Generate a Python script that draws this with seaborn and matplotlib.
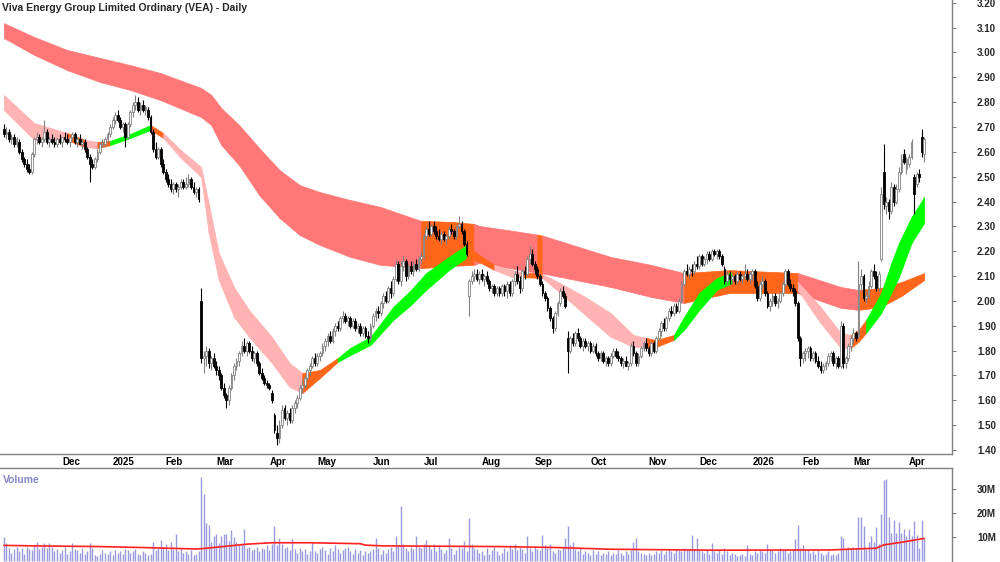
import numpy as np
import pandas as pd
import matplotlib
matplotlib.use("Agg")
import matplotlib.pyplot as plt
import matplotlib.transforms as mtransforms
import seaborn as sns

sns.set_theme(style="white")
plt.rcParams["font.family"] = ["Liberation Sans", "DejaVu Sans"]

# ──────────────────────────────────────────
# DATA
# ──────────────────────────────────────────
title = "Viva Energy Group Limited Ordinary (VEA) - Daily"

# ASX trading calendar
asx_holidays = ["2024-12-25", "2024-12-26", "2025-01-01", "2025-01-27",
                "2025-04-18", "2025-04-21", "2025-04-25", "2025-06-09",
                "2025-12-25", "2025-12-26", "2026-01-01", "2026-01-26",
                "2026-04-03", "2026-04-06"]
dates = pd.bdate_range("2024-11-01", "2026-04-15", freq="C", holidays=asx_holidays)

opens = [
    # Nov 2024
    2.69, 2.67, 2.68, 2.65, 2.66, 2.63, 2.64, 2.60, 2.57, 2.55, 2.53, 2.52, 2.59, 2.65, 2.66, 2.64, 2.65, 2.68, 2.64, 2.65, 2.64,
    # Dec
    2.63, 2.65, 2.64, 2.66, 2.65, 2.64, 2.66, 2.67, 2.64, 2.65, 2.63, 2.64, 2.61, 2.58, 2.55, 2.54, 2.57, 2.60, 2.63, 2.63,
    # Jan 2025
    2.65, 2.67, 2.70, 2.73, 2.75, 2.73, 2.70, 2.71, 2.66, 2.71, 2.76, 2.79, 2.80, 2.77, 2.79, 2.77, 2.77, 2.74, 2.68, 2.61, 2.58,
    # Feb
    2.61, 2.55, 2.52, 2.49, 2.47, 2.45, 2.47, 2.45, 2.46, 2.48, 2.46, 2.47, 2.49, 2.46, 2.44, 2.45, 2.00, 1.77, 1.78, 1.80,
    # Mar
    1.75, 1.77, 1.74, 1.72, 1.70, 1.65, 1.62, 1.60, 1.65, 1.70, 1.74, 1.76, 1.79, 1.82, 1.80, 1.83, 1.80, 1.77, 1.79, 1.75, 1.71,
    # Apr
    1.69, 1.67, 1.66, 1.63, 1.54, 1.47, 1.45, 1.50, 1.57, 1.53, 1.55, 1.52, 1.57, 1.59, 1.61, 1.65, 1.66, 1.69, 1.72,
    # May
    1.74, 1.77, 1.75, 1.78, 1.79, 1.82, 1.84, 1.86, 1.84, 1.88, 1.90, 1.89, 1.93, 1.94, 1.92, 1.93, 1.90, 1.92, 1.89, 1.90, 1.87, 1.89,
    # Jun
    1.86, 1.85, 1.90, 1.94, 1.96, 1.95, 1.99, 2.02, 2.00, 2.05, 2.03, 2.09, 2.15, 2.08, 2.14, 2.16, 2.10, 2.14, 2.12, 2.15,
    # Jul
    2.13, 2.17, 2.18, 2.26, 2.29, 2.27, 2.30, 2.28, 2.26, 2.25, 2.27, 2.25, 2.26, 2.29, 2.28, 2.26, 2.30, 2.31, 2.28, 2.23, 2.02, 2.08, 2.10,
    # Aug
    2.11, 2.09, 2.11, 2.09, 2.10, 2.08, 2.05, 2.06, 2.03, 2.05, 2.03, 2.06, 2.04, 2.07, 2.03, 2.08, 2.11, 2.08, 2.05, 2.12, 2.11,
    # Sep
    2.17, 2.19, 2.15, 2.13, 2.10, 2.07, 2.03, 2.01, 1.97, 1.93, 1.89, 1.95, 1.99, 2.04, 2.02, 1.85, 1.80, 1.85, 1.83, 1.87, 1.85, 1.82,
    # Oct
    1.84, 1.82, 1.83, 1.80, 1.82, 1.79, 1.77, 1.79, 1.76, 1.77, 1.75, 1.78, 1.80, 1.78, 1.77, 1.75, 1.76, 1.74, 1.75, 1.82, 1.79, 1.75, 1.78,
    # Nov
    1.81, 1.83, 1.81, 1.79, 1.83, 1.80, 1.85, 1.88, 1.91, 1.89, 1.93, 1.96, 1.95, 1.98, 1.96, 2.00, 2.07, 2.12, 2.11, 2.13,
    # Dec
    2.12, 2.15, 2.14, 2.18, 2.15, 2.17, 2.19, 2.17, 2.20, 2.19, 2.20, 2.18, 2.13, 2.08, 2.11, 2.09, 2.10, 2.08, 2.11, 2.09, 2.10,
    # Jan 2026
    2.11, 2.09, 2.11, 2.12, 2.06, 2.01, 2.07, 2.08, 2.03, 1.98, 2.00, 2.02, 1.99, 2.00, 2.03, 2.07, 2.12, 2.07, 2.05, 2.04,
    # Feb
    1.99, 1.85, 1.77, 1.79, 1.80, 1.81, 1.77, 1.79, 1.76, 1.74, 1.72, 1.74, 1.75, 1.78, 1.79, 1.75, 1.77, 1.74, 1.90, 1.75,
    # Mar
    1.77, 1.82, 1.85, 1.87, 1.86, 2.07, 2.10, 2.01, 2.02, 2.06, 2.12, 2.10, 2.05, 2.17, 2.52, 2.38, 2.40, 2.36, 2.46, 2.40, 2.45, 2.52,
    # Apr
    2.59, 2.53, 2.55, 2.58, 2.50, 2.47, 2.51, 2.66, 2.59,
]
highs = [
    2.71, 2.70, 2.69, 2.67, 2.67, 2.66, 2.65, 2.61, 2.58, 2.57, 2.55, 2.60, 2.66, 2.68, 2.67, 2.66, 2.73, 2.69, 2.66, 2.67, 2.66,
    2.66, 2.67, 2.66, 2.68, 2.67, 2.66, 2.68, 2.68, 2.66, 2.67, 2.65, 2.65, 2.62, 2.59, 2.57, 2.58, 2.61, 2.64, 2.65, 2.66,
    2.68, 2.71, 2.74, 2.76, 2.77, 2.74, 2.72, 2.72, 2.72, 2.77, 2.80, 2.83, 2.82, 2.80, 2.81, 2.79, 2.78, 2.75, 2.69, 2.64, 2.62,
    2.62, 2.57, 2.53, 2.51, 2.49, 2.48, 2.48, 2.47, 2.49, 2.49, 2.50, 2.51, 2.50, 2.48, 2.46, 2.46, 2.05, 1.80, 1.82, 1.81,
    1.78, 1.79, 1.76, 1.74, 1.71, 1.67, 1.63, 1.66, 1.71, 1.75, 1.77, 1.80, 1.84, 1.85, 1.84, 1.84, 1.82, 1.80, 1.80, 1.76, 1.73,
    1.70, 1.68, 1.67, 1.64, 1.55, 1.50, 1.52, 1.58, 1.58, 1.56, 1.57, 1.58, 1.60, 1.62, 1.66, 1.68, 1.70, 1.73, 1.75,
    1.78, 1.79, 1.79, 1.80, 1.83, 1.85, 1.87, 1.88, 1.89, 1.91, 1.92, 1.94, 1.96, 1.95, 1.94, 1.94, 1.93, 1.93, 1.91, 1.91, 1.90, 1.90,
    1.88, 1.91, 1.95, 1.97, 1.98, 2.00, 2.03, 2.04, 2.06, 2.08, 2.10, 2.17, 2.16, 2.16, 2.18, 2.17, 2.15, 2.16, 2.16, 2.17,
    2.18, 2.20, 2.27, 2.30, 2.32, 2.31, 2.32, 2.30, 2.29, 2.28, 2.28, 2.27, 2.30, 2.31, 2.29, 2.31, 2.34, 2.32, 2.29, 2.24, 2.09, 2.12, 2.13,
    2.13, 2.12, 2.13, 2.11, 2.12, 2.09, 2.07, 2.07, 2.06, 2.06, 2.07, 2.07, 2.08, 2.08, 2.09, 2.12, 2.14, 2.10, 2.13, 2.14, 2.18,
    2.22, 2.21, 2.16, 2.14, 2.11, 2.08, 2.04, 2.02, 1.98, 1.94, 1.96, 2.00, 2.05, 2.06, 2.03, 1.88, 1.86, 1.87, 1.88, 1.89, 1.86, 1.85,
    1.85, 1.84, 1.84, 1.83, 1.83, 1.80, 1.80, 1.80, 1.78, 1.78, 1.79, 1.81, 1.81, 1.80, 1.78, 1.77, 1.78, 1.76, 1.83, 1.84, 1.80, 1.79, 1.82,
    1.84, 1.85, 1.82, 1.84, 1.84, 1.86, 1.89, 1.92, 1.93, 1.94, 1.97, 1.98, 1.99, 1.99, 2.01, 2.08, 2.13, 2.15, 2.14, 2.15,
    2.16, 2.18, 2.19, 2.19, 2.18, 2.20, 2.20, 2.21, 2.21, 2.21, 2.21, 2.19, 2.14, 2.12, 2.12, 2.11, 2.11, 2.12, 2.12, 2.11, 2.15,
    2.13, 2.12, 2.13, 2.13, 2.08, 2.08, 2.10, 2.09, 2.04, 2.01, 2.03, 2.03, 2.01, 2.04, 2.08, 2.13, 2.13, 2.09, 2.07, 2.05,
    2.00, 1.86, 1.80, 1.81, 1.82, 1.82, 1.80, 1.80, 1.78, 1.76, 1.75, 1.76, 1.79, 1.80, 1.80, 1.78, 1.78, 1.92, 1.91, 1.78,
    1.83, 1.86, 1.89, 1.88, 2.16, 2.13, 2.11, 2.04, 2.08, 2.13, 2.15, 2.12, 2.12, 2.46, 2.63, 2.42, 2.41, 2.48, 2.47, 2.47, 2.54, 2.59,
    2.61, 2.58, 2.59, 2.65, 2.51, 2.52, 2.53, 2.69, 2.66,
]
lows = [
    2.66, 2.65, 2.64, 2.63, 2.62, 2.62, 2.59, 2.56, 2.54, 2.52, 2.51, 2.51, 2.58, 2.63, 2.63, 2.62, 2.64, 2.63, 2.62, 2.63, 2.62,
    2.62, 2.63, 2.62, 2.64, 2.63, 2.62, 2.65, 2.63, 2.62, 2.63, 2.61, 2.60, 2.57, 2.48, 2.53, 2.53, 2.56, 2.59, 2.62, 2.62,
    2.64, 2.66, 2.69, 2.71, 2.72, 2.69, 2.68, 2.62, 2.65, 2.70, 2.74, 2.77, 2.76, 2.75, 2.76, 2.75, 2.73, 2.67, 2.60, 2.57, 2.57,
    2.54, 2.51, 2.48, 2.46, 2.44, 2.43, 2.44, 2.42, 2.45, 2.45, 2.45, 2.46, 2.45, 2.43, 2.42, 2.40, 1.75, 1.71, 1.74, 1.73,
    1.72, 1.73, 1.70, 1.68, 1.64, 1.61, 1.57, 1.58, 1.64, 1.68, 1.72, 1.74, 1.78, 1.79, 1.78, 1.79, 1.76, 1.75, 1.74, 1.70, 1.68,
    1.66, 1.65, 1.64, 1.59, 1.47, 1.42, 1.43, 1.49, 1.52, 1.50, 1.51, 1.51, 1.55, 1.57, 1.60, 1.63, 1.65, 1.68, 1.70,
    1.73, 1.74, 1.74, 1.76, 1.78, 1.80, 1.82, 1.83, 1.83, 1.86, 1.88, 1.88, 1.91, 1.91, 1.90, 1.89, 1.89, 1.88, 1.87, 1.86, 1.86, 1.85,
    1.83, 1.84, 1.89, 1.92, 1.93, 1.94, 1.97, 1.99, 1.99, 2.01, 2.02, 2.08, 2.07, 2.06, 2.12, 2.08, 2.09, 2.11, 2.10, 2.12,
    2.12, 2.15, 2.17, 2.25, 2.26, 2.26, 2.27, 2.25, 2.24, 2.23, 2.24, 2.23, 2.25, 2.27, 2.25, 2.25, 2.29, 2.27, 2.22, 2.18, 1.94, 2.07, 2.08,
    2.08, 2.07, 2.08, 2.06, 2.07, 2.04, 2.03, 2.02, 2.02, 2.02, 2.02, 2.02, 2.01, 2.02, 2.02, 2.06, 2.07, 2.03, 2.04, 2.09, 2.10,
    2.15, 2.14, 2.11, 2.09, 2.06, 2.02, 2.00, 1.96, 1.92, 1.87, 1.88, 1.94, 1.98, 2.01, 1.97, 1.71, 1.79, 1.82, 1.82, 1.84, 1.81, 1.80,
    1.81, 1.80, 1.79, 1.79, 1.78, 1.76, 1.76, 1.75, 1.74, 1.74, 1.74, 1.77, 1.77, 1.76, 1.74, 1.73, 1.74, 1.72, 1.74, 1.78, 1.74, 1.74, 1.77,
    1.80, 1.80, 1.78, 1.78, 1.79, 1.79, 1.84, 1.86, 1.88, 1.88, 1.92, 1.94, 1.94, 1.95, 1.95, 1.99, 2.06, 2.10, 2.09, 2.10,
    2.11, 2.13, 2.13, 2.14, 2.14, 2.15, 2.16, 2.16, 2.18, 2.17, 2.17, 2.14, 2.07, 2.07, 2.07, 2.07, 2.07, 2.07, 2.08, 2.07, 2.09,
    2.08, 2.07, 2.08, 2.05, 2.00, 2.00, 2.05, 2.02, 1.97, 1.96, 1.98, 1.98, 1.97, 1.99, 2.02, 2.06, 2.06, 2.04, 2.02, 1.98,
    1.84, 1.74, 1.75, 1.76, 1.77, 1.76, 1.76, 1.75, 1.73, 1.71, 1.71, 1.72, 1.74, 1.76, 1.74, 1.73, 1.73, 1.73, 1.73, 1.73,
    1.76, 1.80, 1.83, 1.84, 1.85, 2.04, 2.00, 1.99, 2.01, 2.05, 2.09, 2.04, 2.04, 2.16, 2.37, 2.35, 2.33, 2.35, 2.38, 2.39, 2.44, 2.51,
    2.55, 2.51, 2.54, 2.57, 2.35, 2.46, 2.48, 2.58, 2.56,
]
closes = [
    2.67, 2.68, 2.65, 2.66, 2.63, 2.65, 2.60, 2.57, 2.55, 2.53, 2.52, 2.59, 2.65, 2.66, 2.64, 2.65, 2.68, 2.64, 2.65, 2.64, 2.63,
    2.65, 2.64, 2.66, 2.65, 2.64, 2.66, 2.67, 2.64, 2.65, 2.63, 2.64, 2.61, 2.58, 2.55, 2.54, 2.57, 2.60, 2.63, 2.63, 2.65,
    2.67, 2.70, 2.73, 2.75, 2.73, 2.70, 2.71, 2.66, 2.71, 2.76, 2.79, 2.80, 2.77, 2.79, 2.77, 2.78, 2.74, 2.68, 2.61, 2.58, 2.61,
    2.55, 2.52, 2.49, 2.47, 2.45, 2.47, 2.45, 2.46, 2.48, 2.46, 2.47, 2.49, 2.46, 2.44, 2.45, 2.41, 1.77, 1.78, 1.80, 1.75,
    1.77, 1.74, 1.72, 1.70, 1.65, 1.62, 1.60, 1.65, 1.70, 1.74, 1.76, 1.79, 1.82, 1.80, 1.83, 1.80, 1.77, 1.79, 1.75, 1.71, 1.69,
    1.67, 1.66, 1.65, 1.60, 1.48, 1.45, 1.50, 1.56, 1.53, 1.55, 1.52, 1.57, 1.59, 1.61, 1.65, 1.66, 1.69, 1.72, 1.74,
    1.77, 1.75, 1.78, 1.79, 1.82, 1.84, 1.86, 1.84, 1.88, 1.90, 1.89, 1.93, 1.94, 1.92, 1.93, 1.90, 1.92, 1.89, 1.90, 1.87, 1.89, 1.86,
    1.85, 1.90, 1.94, 1.96, 1.95, 1.99, 2.02, 2.00, 2.05, 2.03, 2.09, 2.15, 2.08, 2.14, 2.16, 2.10, 2.14, 2.12, 2.15, 2.13,
    2.17, 2.18, 2.26, 2.29, 2.27, 2.30, 2.28, 2.26, 2.25, 2.27, 2.25, 2.26, 2.29, 2.28, 2.26, 2.30, 2.31, 2.28, 2.23, 2.19, 2.08, 2.10, 2.11,
    2.09, 2.11, 2.09, 2.10, 2.08, 2.05, 2.06, 2.03, 2.05, 2.03, 2.06, 2.04, 2.07, 2.03, 2.08, 2.11, 2.08, 2.05, 2.12, 2.11, 2.17,
    2.19, 2.15, 2.13, 2.10, 2.07, 2.03, 2.01, 1.97, 1.93, 1.89, 1.95, 1.99, 2.04, 2.02, 1.98, 1.80, 1.85, 1.83, 1.87, 1.85, 1.82, 1.84,
    1.82, 1.83, 1.80, 1.82, 1.79, 1.77, 1.79, 1.76, 1.77, 1.75, 1.78, 1.80, 1.78, 1.77, 1.75, 1.76, 1.74, 1.75, 1.82, 1.79, 1.75, 1.78, 1.81,
    1.83, 1.81, 1.79, 1.83, 1.80, 1.85, 1.88, 1.91, 1.89, 1.93, 1.96, 1.95, 1.98, 1.96, 2.00, 2.07, 2.12, 2.11, 2.13, 2.12,
    2.15, 2.14, 2.18, 2.15, 2.17, 2.19, 2.17, 2.20, 2.19, 2.20, 2.18, 2.15, 2.08, 2.11, 2.09, 2.10, 2.08, 2.11, 2.09, 2.10, 2.11,
    2.09, 2.11, 2.12, 2.06, 2.01, 2.07, 2.08, 2.03, 1.98, 2.00, 2.02, 1.99, 2.00, 2.03, 2.07, 2.12, 2.07, 2.05, 2.04, 1.99,
    1.85, 1.77, 1.79, 1.80, 1.81, 1.77, 1.79, 1.76, 1.74, 1.72, 1.74, 1.75, 1.78, 1.79, 1.75, 1.77, 1.74, 1.90, 1.75, 1.77,
    1.82, 1.85, 1.87, 1.85, 2.07, 2.10, 2.01, 2.02, 2.06, 2.12, 2.10, 2.05, 2.11, 2.43, 2.39, 2.40, 2.36, 2.46, 2.40, 2.45, 2.52, 2.57,
    2.56, 2.57, 2.58, 2.64, 2.43, 2.51, 2.50, 2.60, 2.65,
]
# daily volume, millions of shares
volume_m = [
    10.0, 7.5, 5.5, 3.5, 5.0, 6.0, 4.0, 5.5, 3.0, 6.0, 5.0, 4.5, 6.5, 8.0, 5.0, 6.0, 7.5, 5.5, 7.5, 6.0, 4.0,
    5.0, 3.5, 4.5, 6.0, 3.0, 4.0, 7.4, 5.0, 4.5, 3.5, 5.5, 3.0, 4.0, 7.7, 5.5, 2.5, 2.0, 3.0, 4.5, 3.5,
    3.0, 4.0, 2.5, 4.5, 3.5, 4.0, 3.0, 5.0, 4.5, 3.5, 4.0, 5.0, 3.0, 2.5, 4.0, 3.5, 2.5, 3.0, 8.0, 4.5, 5.5,
    8.7, 5.5, 7.0, 4.5, 8.0, 5.0, 11.2, 4.0, 5.5, 3.5, 4.0, 3.0, 4.5, 2.5, 3.0, 4.0, 35.0, 28.0, 16.0, 15.0,
    8.0, 10.4, 11.4, 7.5, 10.4, 11.4, 11.4, 8.5, 13.0, 10.0, 8.0, 6.5, 7.0, 13.5, 5.5, 6.0, 4.5, 5.0, 6.0, 4.0, 5.5,
    5.0, 6.5, 4.5, 7.0, 14.5, 6.5, 9.4, 7.0, 5.5, 6.0, 4.5, 9.0, 5.0, 3.5, 5.5, 4.0, 5.0, 3.0, 4.0,
    8.0, 4.0, 3.5, 5.0, 6.0, 4.5, 3.0, 5.5, 4.0, 6.5, 5.0, 3.5, 4.5, 5.5, 6.0, 4.0, 3.0, 5.0, 3.5, 4.5, 2.5, 4.0,
    3.5, 4.0, 5.0, 9.4, 5.5, 3.0, 4.5, 3.5, 5.0, 6.0, 4.0, 10.4, 6.5, 23.0, 7.0, 5.5, 4.0, 6.0, 5.0, 10.4,
    6.0, 5.5, 7.0, 8.8, 6.5, 5.0, 7.0, 4.0, 6.5, 5.0, 3.5, 4.5, 9.7, 5.5, 3.0, 4.5, 6.0, 5.5, 8.3, 4.0, 18.0, 7.0, 5.5,
    5.0, 3.5, 4.0, 2.5, 5.5, 3.0, 4.5, 6.0, 4.0, 2.5, 3.5, 5.5, 4.0, 6.5, 5.0, 7.0, 4.5, 6.0, 5.0, 3.5, 10.4,
    5.5, 4.0, 6.0, 5.0, 4.5, 10.7, 6.5, 5.5, 7.0, 4.0, 3.5, 5.0, 4.5, 6.0, 9.4, 14.5, 6.5, 7.8, 5.0, 4.0, 5.5, 3.0,
    4.0, 3.5, 2.5, 4.5, 3.0, 4.0, 2.5, 3.5, 3.0, 4.0, 2.5, 3.5, 3.0, 4.5, 3.5, 2.5, 4.0, 3.0, 4.5, 7.8, 9.4, 4.0, 3.5,
    3.0, 2.5, 3.5, 2.5, 3.0, 4.0, 3.5, 4.5, 3.0, 4.0, 5.0, 4.0, 3.5, 5.0, 4.5, 4.0, 5.5, 4.5, 5.0, 11.0,
    5.0, 9.4, 4.5, 4.0, 3.5, 4.5, 3.0, 7.4, 4.0, 3.5, 4.5, 3.0, 5.5, 4.0, 2.5, 3.5, 3.0, 2.0, 2.5, 3.0, 2.0,
    6.5, 3.0, 2.5, 4.0, 3.5, 5.0, 4.0, 3.5, 7.2, 5.0, 4.5, 3.5, 4.0, 5.5, 4.5, 5.0, 3.5, 4.0, 4.5, 9.0,
    15.0, 5.5, 6.5, 4.5, 5.0, 3.5, 4.0, 3.0, 4.5, 3.5, 2.5, 3.0, 4.0, 2.5, 3.0, 2.5, 3.5, 10.4, 9.4, 5.0,
    6.0, 5.5, 6.0, 5.5, 18.4, 18.4, 14.6, 5.0, 7.8, 10.4, 7.8, 14.0, 7.0, 19.4, 33.8, 34.2, 18.2, 11.5, 17.0, 11.5, 16.4, 11.5,
    13.5, 10.5, 13.5, 10.5, 16.6, 10.9, 5.4, 17.2, 9.7,
]

# volume average line, read at sample days (day number, millions)
vol_avg_day = [0, 12, 38, 55, 76, 79, 96, 106, 121, 141, 143, 150, 196, 219, 240, 281, 327, 336, 345, 348, 355, 364]
vol_avg_m = [6.5, 6.3, 6.0, 5.6, 5.0, 5.2, 7.0, 7.6, 7.6, 7.2, 6.6, 6.3, 6.0, 5.6, 4.9, 4.5, 4.6, 5.0, 5.3, 6.7, 7.8, 9.4]

# long-term average band, read at sample days
long_day = [0, 12, 25, 38, 50, 62, 78, 82, 86, 93, 101, 109, 117, 125, 137, 149,
            165, 177, 186, 188, 211, 213, 240, 256, 269, 287, 314, 331, 338, 347, 355, 364]
long_top = [3.118, 3.062, 3.010, 2.978, 2.949, 2.917, 2.857, 2.829, 2.776, 2.708, 2.615, 2.527, 2.466, 2.438, 2.406, 2.378,
            2.322, 2.318, 2.310, 2.302, 2.267, 2.263, 2.177, 2.145, 2.112, 2.124, 2.112, 2.056, 2.044, 2.052, 2.076, 2.112]
long_bot = [3.058, 2.990, 2.929, 2.881, 2.849, 2.808, 2.740, 2.708, 2.627, 2.547, 2.426, 2.334, 2.265, 2.225, 2.177, 2.145,
            2.132, 2.141, 2.145, 2.153, 2.113, 2.111, 2.056, 2.016, 1.992, 2.032, 2.032, 1.972, 1.964, 1.976, 2.020, 2.084]
long_trend = ["down"] * 16 + ["up", "up", "down", "down", "up", "down", "down", "down",
                              "up", "up", "down", "down", "up", "up", "up", "up"]

# short-term average band, read at sample days
short_day = [0, 12, 25, 32, 37, 42, 50, 58, 63, 70, 78, 81, 85, 91, 97, 106, 113, 118, 125, 132,
             137, 145, 154, 161, 167, 176, 183, 188, 194, 201, 205, 213, 220, 230, 240, 249, 254, 258,
             265, 269, 275, 282, 288, 299, 311, 314, 323, 331, 335, 338, 341, 347, 351, 354, 359, 364]
short_top = [2.829, 2.716, 2.676, 2.648, 2.640, 2.644, 2.672, 2.708, 2.676, 2.607, 2.539, 2.394, 2.193, 2.056,
             1.963, 1.855, 1.750, 1.710, 1.722, 1.770, 1.811, 1.855, 1.976, 2.044, 2.112, 2.177, 2.225, 2.185,
             2.145, 2.124, 2.116, 2.108, 2.072, 2.016, 1.951, 1.863, 1.851, 1.843, 1.863, 1.935, 2.032, 2.092,
             2.116, 2.112, 2.092, 2.076, 1.976, 1.871, 1.863, 1.883, 1.923, 2.032, 2.153, 2.233, 2.338, 2.418]
short_bot = [2.768, 2.648, 2.648, 2.619, 2.615, 2.627, 2.656, 2.688, 2.656, 2.575, 2.499, 2.273, 2.084, 1.935,
             1.855, 1.750, 1.654, 1.629, 1.690, 1.754, 1.782, 1.823, 1.923, 1.984, 2.044, 2.124, 2.173, 2.157,
             2.124, 2.096, 2.096, 2.092, 2.032, 1.943, 1.855, 1.815, 1.815, 1.815, 1.843, 1.883, 1.963, 2.044,
             2.072, 2.072, 2.052, 2.044, 1.911, 1.811, 1.811, 1.835, 1.871, 1.951, 2.032, 2.096, 2.233, 2.314]
short_trend = ["down", "down", "flat", "down", "flat", "up", "up", "flat", "down", "down",
               "down", "down", "down", "down", "down", "down", "down", "flat", "flat", "up",
               "up", "up", "up", "up", "up", "up", "flat", "flat", "down", "down",
               "flat", "down", "down", "down", "down", "down", "flat", "flat", "up", "up",
               "up", "up", "flat", "flat", "flat", "down", "down", "down", "flat", "flat",
               "up", "up", "up", "up", "up", "up"]

price_ticks = [1.4, 1.5, 1.6, 1.7, 1.8, 1.9, 2.0, 2.1, 2.2, 2.3, 2.4, 2.5, 2.6, 2.7, 2.8, 2.9, 3.0, 3.1, 3.2]
volume_ticks = [10, 20, 30]

# ──────────────────────────────────────────
# FRAME
# ──────────────────────────────────────────
df = pd.DataFrame({"date": dates, "open": opens, "high": highs, "low": lows,
                   "close": closes, "volume": volume_m})
df["day"] = np.arange(len(df))
rising = (df["close"] >= df["open"]).to_numpy()

long_colors = {"down": "#ff7777", "up": "#ff661a"}
short_colors = {"down": "#ffb3b3", "flat": "#ff661a", "up": "#00ff00"}

fig = plt.figure(figsize=(10, 5.62), dpi=100)
ax = fig.add_axes([0, 0.1922, 0.952, 0.8078])
vax = fig.add_axes([0, 0, 0.952, 0.1673])


def draw_band(axis, day, top, bot, trend, palette, z):
    for k in range(len(day) - 1):
        col = palette[trend[k]]
        axis.fill_between(day[k:k + 2], bot[k:k + 2], top[k:k + 2],
                          color=col, edgecolor=col, linewidth=0.5, zorder=z)


draw_band(ax, long_day, long_top, long_bot, long_trend, long_colors, 1)
draw_band(ax, short_day, short_top, short_bot, short_trend, short_colors, 2)

# candles
edge = np.where(rising, "#808080", "#000000")
ax.vlines(df["day"], df["low"], df["high"], colors=edge, linewidth=0.8, zorder=3)
body_low = np.minimum(df["open"], df["close"])
body_h = np.maximum((df["close"] - df["open"]).abs(), 0.004)
ax.bar(df["day"], body_h, bottom=body_low, width=0.72,
       color=np.where(rising, "white", "black"), edgecolor=edge, linewidth=0.6, zorder=4)

# price axis
ax.set_xlim(-1.54, 375.0)
ax.set_ylim(1.384, 3.211)
ax.yaxis.tick_right()
ax.set_yticks(price_ticks)
ax.set_yticklabels([f"{v:.2f}" for v in price_ticks], fontsize=7, fontweight="bold")
ax.tick_params(axis="y", direction="out", length=3, width=0.8, color="#808080", pad=15)
for s in ["left", "top"]:
    ax.spines[s].set_visible(False)
for s in ["right", "bottom"]:
    ax.spines[s].set_color("#808080")
    ax.spines[s].set_linewidth(1)

month_start = df.groupby(df["date"].dt.to_period("M"))["day"].min()
ax.set_xticks(month_start.values)
ax.set_xticklabels([])
ax.tick_params(axis="x", direction="out", length=4, width=0.8, color="#808080")
trans = mtransforms.blended_transform_factory(ax.transData, ax.transAxes)
for per, d in month_start.items():
    if d == 0:
        continue
    lbl = str(per.year) if per.month == 1 else per.strftime("%b")
    ax.text(d + 2.0, -0.006, lbl, transform=trans, ha="left", va="top",
            fontsize=7, fontweight="bold", color="black")

fig.text(0.002, 0.986, title, ha="left", va="center", fontsize=7.5, fontweight="bold")

# volume panel
vax.vlines(df["day"], 0, df["volume"], colors="#9999dd", linewidth=1.0, zorder=2)
sns.lineplot(x=vol_avg_day, y=vol_avg_m, ax=vax, color="#ff2020", linewidth=1.2, zorder=3)
vax.set_xlim(-1.54, 375.0)
vax.set_ylim(-0.42, 38.75)
vax.set_xticks([])
vax.yaxis.tick_right()
vax.set_yticks(volume_ticks)
vax.set_yticklabels([f"{v}M" for v in volume_ticks], fontsize=7, fontweight="bold")
vax.tick_params(axis="y", direction="out", length=3, width=0.8, color="#808080", pad=15)
for s in ["left", "bottom"]:
    vax.spines[s].set_visible(False)
for s in ["right", "top"]:
    vax.spines[s].set_color("#808080")
    vax.spines[s].set_linewidth(1)
vax.set_xlabel("")
vax.set_ylabel("")
vax.text(0.003, 0.87, "Volume", transform=vax.transAxes, ha="left", va="center",
         fontsize=7.5, fontweight="bold", color="#8585c8")

fig.savefig("out.png", dpi=100)
